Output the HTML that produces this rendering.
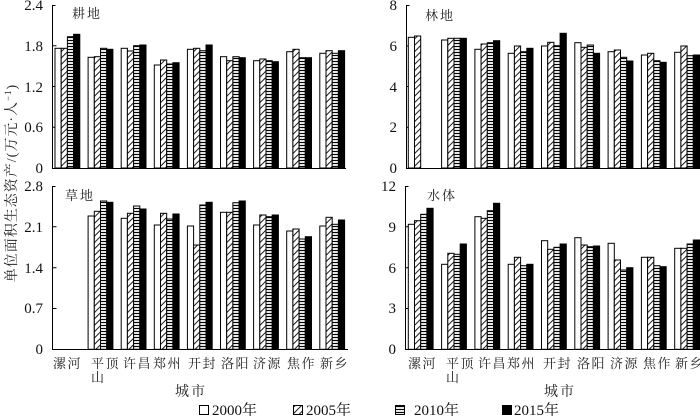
<!DOCTYPE html>
<html><head><meta charset="utf-8"><style>
html,body{margin:0;padding:0;background:#fff;}
svg{display:block;}
.ax{stroke:#000;stroke-width:1;fill:none;}
.w{fill:#fff;stroke:#000;stroke-width:1;}
.h{fill:url(#hat);stroke:#000;stroke-width:1;}
.s{fill:url(#str);stroke:#000;stroke-width:1;}
.k{fill:#000;stroke:#000;stroke-width:1;}
.t{font-family:"Liberation Serif","Noto Serif CJK SC",serif;font-size:15px;fill:#111;}
.c{font-family:"Liberation Serif","Noto Serif CJK SC",serif;font-size:13px;fill:#222;letter-spacing:1.5px;}
.p{font-family:"Liberation Serif","Noto Serif CJK SC",serif;font-size:13px;fill:#222;letter-spacing:2px;}
</style></head><body>
<svg width="700" height="416" viewBox="0 0 700 416" xmlns="http://www.w3.org/2000/svg">
<defs>
<pattern id="hat" width="4.5" height="4.5" patternUnits="userSpaceOnUse" patternTransform="rotate(45)">
<rect width="4.5" height="4.5" fill="#fff"/><line x1="0" y1="0" x2="0" y2="4.5" stroke="#000" stroke-width="1.8"/>
</pattern>
<pattern id="str" width="4" height="3" patternUnits="userSpaceOnUse">
<rect width="4" height="3" fill="#fff"/><line x1="0" y1="1.5" x2="4" y2="1.5" stroke="#000" stroke-width="1.2"/>
</pattern>
</defs>

<!-- ===== Top-left 耕地 ===== -->
<path class="ax" d="M55.5,5.5 H52.5 V168.5 H346"/>
<path class="ax" d="M52.5,45.75 H56.5 M52.5,86.5 H56.5 M52.5,127.25 H56.5"/>
<text class="t" x="43" y="10" text-anchor="end">2.4</text>
<text class="t" x="43" y="51" text-anchor="end">1.8</text>
<text class="t" x="43" y="92" text-anchor="end">1.2</text>
<text class="t" x="43" y="132" text-anchor="end">0.6</text>
<text class="t" x="43" y="173" text-anchor="end">0</text>
<text class="p" x="72" y="18">耕地</text>
<g transform="translate(55,0)"><rect class="w" x="0" y="48.3" width="6.2" height="119.7"/><rect class="h" x="6.2" y="48.3" width="6.2" height="119.7"/><rect class="s" x="12.4" y="36.7" width="6.2" height="131.3"/><rect class="k" x="18.6" y="34.3" width="6.2" height="133.7"/></g>
<g transform="translate(88.1,0)"><rect class="w" x="0" y="57.3" width="6.2" height="110.7"/><rect class="h" x="6.2" y="56.7" width="6.2" height="111.3"/><rect class="s" x="12.4" y="48.3" width="6.2" height="119.7"/><rect class="k" x="18.6" y="49.3" width="6.2" height="118.7"/></g>
<g transform="translate(121.2,0)"><rect class="w" x="0" y="48.3" width="6.2" height="119.7"/><rect class="h" x="6.2" y="51" width="6.2" height="117"/><rect class="s" x="12.4" y="45.7" width="6.2" height="122.3"/><rect class="k" x="18.6" y="45" width="6.2" height="123"/></g>
<g transform="translate(154.3,0)"><rect class="w" x="0" y="65" width="6.2" height="103"/><rect class="h" x="6.2" y="60" width="6.2" height="108"/><rect class="s" x="12.4" y="64" width="6.2" height="104"/><rect class="k" x="18.6" y="62.7" width="6.2" height="105.3"/></g>
<g transform="translate(187.4,0)"><rect class="w" x="0" y="49.3" width="6.2" height="118.7"/><rect class="h" x="6.2" y="48.3" width="6.2" height="119.7"/><rect class="s" x="12.4" y="50.7" width="6.2" height="117.3"/><rect class="k" x="18.6" y="45" width="6.2" height="123"/></g>
<g transform="translate(220.5,0)"><rect class="w" x="0" y="56.7" width="6.2" height="111.3"/><rect class="h" x="6.2" y="60.7" width="6.2" height="107.3"/><rect class="s" x="12.4" y="56.7" width="6.2" height="111.3"/><rect class="k" x="18.6" y="57.7" width="6.2" height="110.3"/></g>
<g transform="translate(253.6,0)"><rect class="w" x="0" y="60.7" width="6.2" height="107.3"/><rect class="h" x="6.2" y="59" width="6.2" height="109"/><rect class="s" x="12.4" y="60.7" width="6.2" height="107.3"/><rect class="k" x="18.6" y="61.7" width="6.2" height="106.3"/></g>
<g transform="translate(286.7,0)"><rect class="w" x="0" y="51.7" width="6.2" height="116.3"/><rect class="h" x="6.2" y="49.3" width="6.2" height="118.7"/><rect class="s" x="12.4" y="57.7" width="6.2" height="110.3"/><rect class="k" x="18.6" y="57.7" width="6.2" height="110.3"/></g>
<g transform="translate(319.8,0)"><rect class="w" x="0" y="53.3" width="6.2" height="114.7"/><rect class="h" x="6.2" y="50.7" width="6.2" height="117.3"/><rect class="s" x="12.4" y="53.3" width="6.2" height="114.7"/><rect class="k" x="18.6" y="50.7" width="6.2" height="117.3"/></g>

<!-- ===== Top-right 林地 ===== -->
<path class="ax" d="M409.5,5.5 H406.5 V168.5 H700"/>
<path class="ax" d="M406.5,46 H410.5 M406.5,86.5 H410.5 M406.5,127.25 H410.5"/>
<text class="t" x="397" y="10" text-anchor="end">8</text>
<text class="t" x="397" y="51" text-anchor="end">6</text>
<text class="t" x="397" y="92" text-anchor="end">4</text>
<text class="t" x="397" y="132" text-anchor="end">2</text>
<text class="t" x="397" y="173" text-anchor="end">0</text>
<text class="p" x="425" y="20">林地</text>
<g transform="translate(408.3,0)"><rect class="w" x="0" y="37.3" width="6.2" height="130.7"/><rect class="h" x="6.2" y="36" width="6.2" height="132"/></g>
<g transform="translate(441.6,0)"><rect class="w" x="0" y="40" width="6.2" height="128"/><rect class="h" x="6.2" y="38.3" width="6.2" height="129.7"/><rect class="s" x="12.4" y="38.3" width="6.2" height="129.7"/><rect class="k" x="18.6" y="38.3" width="6.2" height="129.7"/></g>
<g transform="translate(474.9,0)"><rect class="w" x="0" y="49.3" width="6.2" height="118.7"/><rect class="h" x="6.2" y="44" width="6.2" height="124"/><rect class="s" x="12.4" y="42.7" width="6.2" height="125.3"/><rect class="k" x="18.6" y="40.7" width="6.2" height="127.3"/></g>
<g transform="translate(508.2,0)"><rect class="w" x="0" y="53.3" width="6.2" height="114.7"/><rect class="h" x="6.2" y="46" width="6.2" height="122"/><rect class="s" x="12.4" y="51.7" width="6.2" height="116.3"/><rect class="k" x="18.6" y="48.3" width="6.2" height="119.7"/></g>
<g transform="translate(541.5,0)"><rect class="w" x="0" y="46" width="6.2" height="122"/><rect class="h" x="6.2" y="42.3" width="6.2" height="125.7"/><rect class="s" x="12.4" y="45.7" width="6.2" height="122.3"/><rect class="k" x="18.6" y="33.3" width="6.2" height="134.7"/></g>
<g transform="translate(574.8,0)"><rect class="w" x="0" y="42.7" width="6.2" height="125.3"/><rect class="h" x="6.2" y="47.3" width="6.2" height="120.7"/><rect class="s" x="12.4" y="45" width="6.2" height="123"/><rect class="k" x="18.6" y="53.3" width="6.2" height="114.7"/></g>
<g transform="translate(608.1,0)"><rect class="w" x="0" y="51.7" width="6.2" height="116.3"/><rect class="h" x="6.2" y="50" width="6.2" height="118"/><rect class="s" x="12.4" y="57.3" width="6.2" height="110.7"/><rect class="k" x="18.6" y="61" width="6.2" height="107"/></g>
<g transform="translate(641.4,0)"><rect class="w" x="0" y="55" width="6.2" height="113"/><rect class="h" x="6.2" y="53.3" width="6.2" height="114.7"/><rect class="s" x="12.4" y="60.7" width="6.2" height="107.3"/><rect class="k" x="18.6" y="62.3" width="6.2" height="105.7"/></g>
<g transform="translate(674.7,0)"><rect class="w" x="0" y="52.3" width="6.2" height="115.7"/><rect class="h" x="6.2" y="46" width="6.2" height="122"/><rect class="s" x="12.4" y="55.7" width="6.2" height="112.3"/><rect class="k" x="18.6" y="55" width="6.2" height="113"/></g>

<!-- ===== Bottom-left 草地 ===== -->
<path class="ax" d="M55.5,186.5 H52.5 V349.5 H348"/>
<path class="ax" d="M52.5,226.8 H56.5 M52.5,267.7 H56.5 M52.5,308.5 H56.5"/>
<text class="t" x="43" y="191" text-anchor="end">2.8</text>
<text class="t" x="43" y="232" text-anchor="end">2.1</text>
<text class="t" x="43" y="273" text-anchor="end">1.4</text>
<text class="t" x="43" y="313" text-anchor="end">0.7</text>
<text class="t" x="43" y="354" text-anchor="end">0</text>
<text class="p" x="65" y="200">草地</text>
<g transform="translate(88.1,0)"><rect class="w" x="0" y="216" width="6.2" height="133.3"/><rect class="h" x="6.2" y="211.3" width="6.2" height="138"/><rect class="s" x="12.4" y="201" width="6.2" height="148.3"/><rect class="k" x="18.6" y="202.3" width="6.2" height="147"/></g>
<g transform="translate(121.2,0)"><rect class="w" x="0" y="218.3" width="6.2" height="131"/><rect class="h" x="6.2" y="213.3" width="6.2" height="136"/><rect class="s" x="12.4" y="206" width="6.2" height="143.3"/><rect class="k" x="18.6" y="209" width="6.2" height="140.3"/></g>
<g transform="translate(154.3,0)"><rect class="w" x="0" y="225" width="6.2" height="124.3"/><rect class="h" x="6.2" y="213.3" width="6.2" height="136"/><rect class="s" x="12.4" y="219" width="6.2" height="130.3"/><rect class="k" x="18.6" y="214" width="6.2" height="135.3"/></g>
<g transform="translate(187.4,0)"><rect class="w" x="0" y="226" width="6.2" height="123.3"/><rect class="h" x="6.2" y="245" width="6.2" height="104.3"/><rect class="s" x="12.4" y="205" width="6.2" height="144.3"/><rect class="k" x="18.6" y="202.3" width="6.2" height="147"/></g>
<g transform="translate(220.5,0)"><rect class="w" x="0" y="212.3" width="6.2" height="137"/><rect class="h" x="6.2" y="212.3" width="6.2" height="137"/><rect class="s" x="12.4" y="202.7" width="6.2" height="146.6"/><rect class="k" x="18.6" y="201" width="6.2" height="148.3"/></g>
<g transform="translate(253.6,0)"><rect class="w" x="0" y="225" width="6.2" height="124.3"/><rect class="h" x="6.2" y="215" width="6.2" height="134.3"/><rect class="s" x="12.4" y="216.7" width="6.2" height="132.6"/><rect class="k" x="18.6" y="215" width="6.2" height="134.3"/></g>
<g transform="translate(286.7,0)"><rect class="w" x="0" y="231" width="6.2" height="118.3"/><rect class="h" x="6.2" y="229" width="6.2" height="120.3"/><rect class="s" x="12.4" y="239" width="6.2" height="110.3"/><rect class="k" x="18.6" y="236.7" width="6.2" height="112.6"/></g>
<g transform="translate(319.8,0)"><rect class="w" x="0" y="226" width="6.2" height="123.3"/><rect class="h" x="6.2" y="217.3" width="6.2" height="132"/><rect class="s" x="12.4" y="224.3" width="6.2" height="125"/><rect class="k" x="18.6" y="220" width="6.2" height="129.3"/></g>

<!-- ===== Bottom-right 水体 ===== -->
<path class="ax" d="M408.5,186.5 H405.5 V349.5 H700"/>
<path class="ax" d="M405.5,226.8 H409.5 M405.5,267.7 H409.5 M405.5,308.5 H409.5"/>
<text class="t" x="396" y="191" text-anchor="end">12</text>
<text class="t" x="396" y="232" text-anchor="end">9</text>
<text class="t" x="396" y="273" text-anchor="end">6</text>
<text class="t" x="396" y="313" text-anchor="end">3</text>
<text class="t" x="396" y="354" text-anchor="end">0</text>
<text class="p" x="427" y="200">水体</text>
<g transform="translate(408.3,0)"><rect class="w" x="0" y="224.3" width="6.2" height="125"/><rect class="h" x="6.2" y="220.7" width="6.2" height="128.6"/><rect class="s" x="12.4" y="214.3" width="6.2" height="135"/><rect class="k" x="18.6" y="208.3" width="6.2" height="141"/></g>
<g transform="translate(441.6,0)"><rect class="w" x="0" y="264.3" width="6.2" height="85"/><rect class="h" x="6.2" y="253.3" width="6.2" height="96"/><rect class="s" x="12.4" y="254.3" width="6.2" height="95"/><rect class="k" x="18.6" y="244" width="6.2" height="105.3"/></g>
<g transform="translate(474.9,0)"><rect class="w" x="0" y="216.7" width="6.2" height="132.6"/><rect class="h" x="6.2" y="218.3" width="6.2" height="131"/><rect class="s" x="12.4" y="210.7" width="6.2" height="138.6"/><rect class="k" x="18.6" y="203.3" width="6.2" height="146"/></g>
<g transform="translate(508.2,0)"><rect class="w" x="0" y="264.3" width="6.2" height="85"/><rect class="h" x="6.2" y="257.3" width="6.2" height="92"/><rect class="s" x="12.4" y="265.7" width="6.2" height="83.6"/><rect class="k" x="18.6" y="264.3" width="6.2" height="85"/></g>
<g transform="translate(541.5,0)"><rect class="w" x="0" y="240.7" width="6.2" height="108.6"/><rect class="h" x="6.2" y="249.3" width="6.2" height="100"/><rect class="s" x="12.4" y="247.3" width="6.2" height="102"/><rect class="k" x="18.6" y="244" width="6.2" height="105.3"/></g>
<g transform="translate(574.8,0)"><rect class="w" x="0" y="237.7" width="6.2" height="111.6"/><rect class="h" x="6.2" y="245" width="6.2" height="104.3"/><rect class="s" x="12.4" y="246.7" width="6.2" height="102.6"/><rect class="k" x="18.6" y="246" width="6.2" height="103.3"/></g>
<g transform="translate(608.1,0)"><rect class="w" x="0" y="243.3" width="6.2" height="106"/><rect class="h" x="6.2" y="260" width="6.2" height="89.3"/><rect class="s" x="12.4" y="270" width="6.2" height="79.3"/><rect class="k" x="18.6" y="267.7" width="6.2" height="81.6"/></g>
<g transform="translate(641.4,0)"><rect class="w" x="0" y="257.3" width="6.2" height="92"/><rect class="h" x="6.2" y="257.3" width="6.2" height="92"/><rect class="s" x="12.4" y="265.7" width="6.2" height="83.6"/><rect class="k" x="18.6" y="266.7" width="6.2" height="82.6"/></g>
<g transform="translate(674.7,0)"><rect class="w" x="0" y="248.3" width="6.2" height="101"/><rect class="h" x="6.2" y="248.3" width="6.2" height="101"/><rect class="s" x="12.4" y="244" width="6.2" height="105.3"/><rect class="k" x="18.6" y="240" width="6.2" height="109.3"/></g>

<!-- ===== X category labels ===== -->
<g class="c">
<text x="53" y="368">漯河</text>
<text x="91" y="368">平顶</text>
<text x="91" y="382">山</text>
<text x="123" y="368">许昌</text>
<text x="153" y="368">郑州</text>
<text x="188" y="368">开封</text>
<text x="221" y="368">洛阳</text>
<text x="253" y="368">济源</text>
<text x="287" y="368">焦作</text>
<text x="320" y="368">新乡</text>

<text x="408" y="368">漯河</text>
<text x="446" y="368">平顶</text>
<text x="446" y="382">山</text>
<text x="478" y="368">许昌</text>
<text x="507" y="368">郑州</text>
<text x="543" y="368">开封</text>
<text x="577" y="368">洛阳</text>
<text x="610" y="368">济源</text>
<text x="643" y="368">焦作</text>
<text x="675" y="368">新乡</text>
</g>
<text class="p" x="175" y="396" style="font-size:14px">城市</text>
<text class="p" x="544" y="396" style="font-size:14px">城市</text>

<!-- ===== Y axis title ===== -->
<text class="p" transform="translate(16,183) rotate(-90)" text-anchor="middle" style="font-size:14px;letter-spacing:1px">单位面积生态资产/(万元·人<tspan dy="-5" font-size="9">−1</tspan><tspan dy="5">)</tspan></text>

<!-- ===== Legend ===== -->
<rect class="w" x="199.5" y="405.5" width="9" height="9"/>
<text class="t" x="212" y="415">2000年</text>
<rect class="h" x="293.5" y="405.5" width="9" height="9"/>
<text class="t" x="306" y="415">2005年</text>
<rect class="s" x="395.5" y="405.5" width="9" height="9"/>
<text class="t" x="414" y="415">2010年</text>
<rect class="k" x="502.5" y="405.5" width="9" height="9"/>
<text class="t" x="514" y="415">2015年</text>
</svg>
</body></html>
